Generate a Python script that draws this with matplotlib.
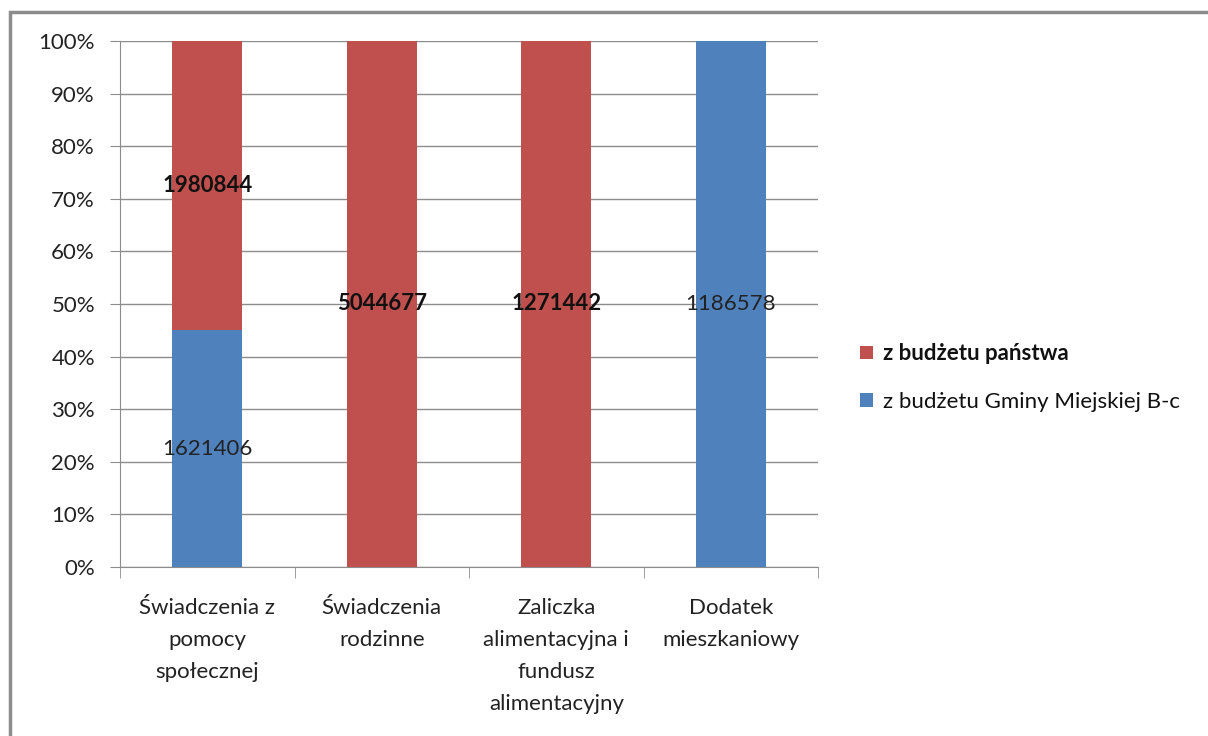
import numpy as np
import matplotlib.pyplot as plt
from matplotlib.patches import Rectangle

plt.rcParams['font.family'] = ['Lato', 'DejaVu Sans']

# Dane
kategorie = ["Świadczenia z\npomocy\nspołecznej", "Świadczenia\nrodzinne",
             "Zaliczka\nalimentacyjna i\nfundusz\nalimentacyjny", "Dodatek\nmieszkaniowy"]
gmina = [1621406, 0, 0, 1186578]
panstwo = [1980844, 5044677, 1271442, 0]

kolor_gmina = "#4f81bd"
kolor_panstwo = "#c0504d"

gmina = np.array(gmina, dtype=float)
panstwo = np.array(panstwo, dtype=float)
suma = gmina + panstwo
proc_gmina = gmina / suma * 100
proc_panstwo = panstwo / suma * 100

fig = plt.figure(figsize=(12.08, 7.36), dpi=100)
ax = fig.add_axes([120 / 1208, 1 - 567 / 736, 698 / 1208, 526 / 736])

x = np.arange(len(kategorie))
szer = 0.4
b1 = ax.bar(x, proc_gmina, szer, color=kolor_gmina, label="z budżetu Gminy Miejskiej B-c", zorder=3)
b2 = ax.bar(x, proc_panstwo, szer, bottom=proc_gmina, color=kolor_panstwo,
            label="z budżetu państwa", zorder=3)

# Etykiety danych
for i in range(len(x)):
    if gmina[i] > 0:
        ax.text(x[i], proc_gmina[i] / 2, f"{int(gmina[i])}", ha="center", va="center",
                fontsize=16, color="#222222", zorder=4)
    if panstwo[i] > 0:
        ax.text(x[i], proc_gmina[i] + proc_panstwo[i] / 2, f"{int(panstwo[i])}", ha="center",
                va="center", fontsize=16, fontweight="bold", color="#111111", zorder=4)

ax.set_xlim(-0.5, len(x) - 0.5)
ax.set_ylim(0, 100)
ax.set_yticks(np.arange(0, 101, 10))
ax.set_yticklabels([f"{v}%" for v in range(0, 101, 10)], fontsize=16, color="#222222")
ax.yaxis.grid(True, color="#8c8c8c", linewidth=1, zorder=0)

ax.set_xticks(x)
ax.set_xticklabels(kategorie, fontsize=16, color="#222222", linespacing=1.75)
ax.set_xticks(np.arange(-0.5, len(x), 1), minor=True)
ax.tick_params(axis="x", which="major", length=0, pad=22)
ax.tick_params(axis="x", which="minor", length=8, color="#8c8c8c")
ax.tick_params(axis="y", length=7, color="#8c8c8c", pad=11)

for s in ["top", "right"]:
    ax.spines[s].set_visible(False)
for s in ["left", "bottom"]:
    ax.spines[s].set_color("#8c8c8c")

# Legenda
uchwyty = [b2, b1]
leg = ax.legend(uchwyty, [h.get_label() for h in uchwyty], loc="center left",
                bbox_to_anchor=(1.032, 0.36), frameon=False, fontsize=16,
                handlelength=0.55, handleheight=0.55, handletextpad=0.45, labelspacing=1.25)
leg.get_texts()[0].set_fontweight("bold")
for t in leg.get_texts():
    t.set_color("#111111")

# Ramka wykresu
fig.patches.append(Rectangle((10 / 1208, -0.1), 1.2, 1 - 12 / 736 + 0.1,
                             transform=fig.transFigure, fill=False,
                             edgecolor="#8c8c8c", linewidth=2.5))

fig.savefig("out.png", dpi=100)
